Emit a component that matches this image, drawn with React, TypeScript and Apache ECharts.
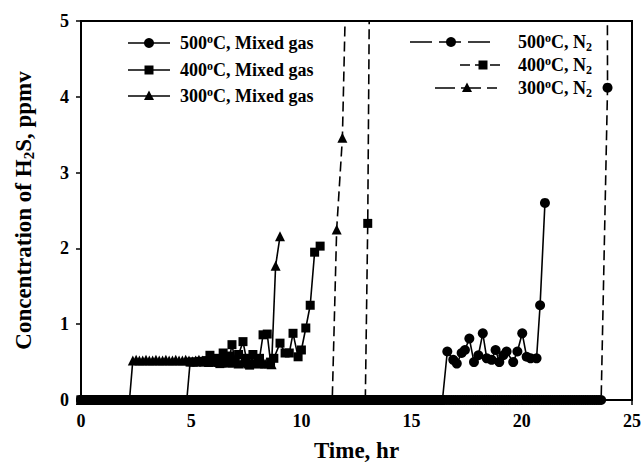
import React, { useEffect, useRef } from "react";
import * as echarts from "echarts";

// Instrument readings were logged roughly every 0.1 hr; the initial runs read 0 ppmv.
const SAMPLE_STEP = 0.1;

// 500 °C, mixed gas (circles, solid)
const zeroEnd500Mixed = 16.4;
const hours500Mixed = [16.62, 16.89, 17.05, 17.27, 17.42, 17.62, 17.83, 18.03, 18.23, 18.41, 18.63, 18.81, 18.98, 19.16, 19.31, 19.61, 19.8, 20.02, 20.22, 20.4, 20.67, 20.83, 21.05];
const conc500Mixed = [0.64, 0.53, 0.48, 0.62, 0.66, 0.81, 0.5, 0.59, 0.88, 0.55, 0.53, 0.66, 0.5, 0.59, 0.64, 0.5, 0.64, 0.88, 0.57, 0.55, 0.55, 1.25, 2.6];

// 400 °C, mixed gas (squares, solid)
const zeroEnd400Mixed = 4.8;
const hours400Mixed = [4.95, 5.1, 5.25, 5.4, 5.55, 5.7, 5.85, 6.0, 6.15, 6.3, 6.45, 6.6, 6.75, 6.85, 7.0, 7.15, 7.35, 7.5, 7.65, 7.8, 7.95, 8.1, 8.26, 8.45, 8.6, 8.75, 9.03, 9.26, 9.45, 9.62, 9.85, 10.0, 10.2, 10.4, 10.6, 10.85];
const conc400Mixed = [0.5, 0.5, 0.5, 0.51, 0.5, 0.52, 0.59, 0.5, 0.55, 0.48, 0.62, 0.52, 0.58, 0.73, 0.5, 0.6, 0.77, 0.55, 0.46, 0.6, 0.48, 0.55, 0.86, 0.87, 0.5, 0.55, 0.75, 0.62, 0.62, 0.88, 0.57, 0.66, 0.95, 1.25, 1.95, 2.03];

// 300 °C, mixed gas (triangles, solid)
const zeroEnd300Mixed = 2.2;
const hours300Mixed = [2.35, 2.5, 2.65, 2.8, 2.95, 3.1, 3.25, 3.4, 3.55, 3.7, 3.85, 4.0, 4.15, 4.3, 4.45, 4.6, 4.75, 4.9, 5.05, 5.2, 5.35, 5.5, 5.65, 5.8, 5.95, 6.1, 6.25, 6.4, 6.55, 6.7, 6.85, 7.0, 7.15, 7.3, 7.45, 7.6, 7.75, 7.9, 8.05, 8.2, 8.35, 8.5, 8.65, 8.83, 9.03];
const conc300Mixed = [0.52, 0.53, 0.52, 0.52, 0.53, 0.52, 0.52, 0.53, 0.52, 0.52, 0.53, 0.52, 0.52, 0.53, 0.52, 0.52, 0.53, 0.52, 0.51, 0.52, 0.53, 0.52, 0.51, 0.5, 0.52, 0.51, 0.5, 0.49, 0.51, 0.5, 0.49, 0.5, 0.48, 0.5, 0.49, 0.48, 0.5, 0.49, 0.48, 0.49, 0.48, 0.48, 0.47, 1.77, 2.16];

// N2 runs (dashed); last reading goes off scale
const zeroEnd500N2 = 23.6;
const hours500N2 = [23.89, 23.85];
const conc500N2 = [4.12, 10];

const zeroEnd400N2 = 12.9;
const hours400N2 = [13.01, 13.2];
const conc400N2 = [2.33, 10];

const zeroEnd300N2 = 11.4;
const hours300N2 = [11.6, 11.86, 12.37];
const conc300N2 = [2.25, 3.46, 10];

const xTicks = [0, 5, 10, 15, 20, 25];
const yTicks = [0, 1, 2, 3, 4, 5];

const FONT = "'Liberation Serif', 'Times New Roman', serif";

function buildSeries(zeroEnd: number, hours: number[], values: number[]) {
  const pts: number[][] = [];
  const n = Math.round(zeroEnd / SAMPLE_STEP);
  for (let i = 0; i <= n; i++) pts.push([+(i * SAMPLE_STEP).toFixed(2), 0]);
  hours.forEach((h, i) => pts.push([h, values[i]]));
  return pts;
}

const richLegend = {
  n: { fontFamily: FONT, fontSize: 18, fontWeight: "bold", fill: "#000", color: "#000", lineHeight: 21 },
  s: { fontFamily: FONT, fontSize: 12, fontWeight: "bold", fill: "#000", color: "#000", verticalAlign: "top", lineHeight: 21, padding: [0, 0, 8, 0] },
  b: { fontFamily: FONT, fontSize: 12, fontWeight: "bold", fill: "#000", color: "#000", verticalAlign: "bottom", lineHeight: 21, padding: [8, 0, 0, 0] },
};

function marker(sym: string, cx: number, cy: number) {
  if (sym === "circle") return { type: "circle", shape: { cx, cy, r: 5 }, style: { fill: "#000" } };
  if (sym === "rect") return { type: "rect", shape: { x: cx - 4.5, y: cy - 4.5, width: 9, height: 9 }, style: { fill: "#000" } };
  return { type: "polygon", shape: { points: [[cx, cy - 5.5], [cx + 5, cy + 4], [cx - 5, cy + 4]] }, style: { fill: "#000" } };
}

export default function App() {
  const ref = useRef<HTMLDivElement>(null);
  useEffect(() => {
    document.body.style.margin = "0";
    if (!ref.current) return;
    const chart = echarts.init(ref.current, undefined, { renderer: "svg" });

    const mk = (name: string, data: number[][], symbol: string, size: number, dashed: boolean) => ({
      type: "line",
      name,
      data,
      symbol,
      symbolSize: size,
      showSymbol: true,
      showAllSymbol: true,
      clip: true,
      itemStyle: { color: "#000" },
      lineStyle: { color: "#000", width: 1.6, type: dashed ? [10, 5] : "solid" },
      emphasis: { disabled: true },
    });

    const leftRows = [
      { y: 43, sym: "circle", text: "{n|500}{s|o}{n|C, Mixed gas}" },
      { y: 70, sym: "rect", text: "{n|400}{s|o}{n|C, Mixed gas}" },
      { y: 96, sym: "triangle", text: "{n|300}{s|o}{n|C, Mixed gas}" },
    ];
    const rightRows = [
      { y: 42, sym: "circle", x1: 410, x2: 490, mx: 451, dash: [22, 7], text: "{n|500}{s|o}{n|C, N}{b|2}" },
      { y: 65, sym: "rect", x1: 460, x2: 503, mx: 483, dash: [10, 5], text: "{n|400}{s|o}{n|C, N}{b|2}" },
      { y: 88, sym: "triangle", x1: 435, x2: 497, mx: 467, dash: [20, 6], text: "{n|300}{s|o}{n|C, N}{b|2}" },
    ];

    const graphics: any[] = [];
    leftRows.forEach((r) => {
      graphics.push({ type: "line", shape: { x1: 128, y1: r.y, x2: 170, y2: r.y }, style: { stroke: "#000", lineWidth: 1.6 } });
      graphics.push(marker(r.sym, 149, r.y));
      graphics.push({
        type: "text",
        x: 180,
        y: r.y,
        style: { text: r.text, rich: richLegend, verticalAlign: "middle", align: "left", fill: "#000", font: `bold 18px ${FONT}` },
      });
    });
    rightRows.forEach((r) => {
      graphics.push({ type: "line", shape: { x1: r.x1, y1: r.y, x2: r.x2, y2: r.y }, style: { stroke: "#000", lineWidth: 1.6, lineDash: r.dash } });
      graphics.push(marker(r.sym, r.mx, r.y));
      graphics.push({
        type: "text",
        x: 518,
        y: r.y,
        style: { text: r.text, rich: richLegend, verticalAlign: "middle", align: "left", fill: "#000", font: `bold 18px ${FONT}` },
      });
    });

    chart.setOption({
      animation: false,
      backgroundColor: "#fff",
      grid: {
        left: 81,
        right: 11,
        top: 21,
        bottom: 63,
        show: true,
        borderColor: "#000",
        borderWidth: 2,
        backgroundColor: "transparent",
        containLabel: false,
        outerBoundsMode: "none",
      },
      xAxis: {
        type: "value",
        min: xTicks[0],
        max: xTicks[xTicks.length - 1],
        interval: 5,
        name: "Time, hr",
        nameLocation: "middle",
        nameGap: 39,
        nameTextStyle: { fontFamily: FONT, fontSize: 23, fontWeight: "bold", color: "#000" },
        axisLine: { lineStyle: { color: "#000", width: 2 } },
        axisTick: { inside: false, length: 5, lineStyle: { color: "#000", width: 1.5 } },
        axisLabel: { margin: 12, fontFamily: FONT, fontSize: 18, fontWeight: "bold", color: "#000" },
        splitLine: { show: false },
      },
      yAxis: {
        type: "value",
        min: yTicks[0],
        max: yTicks[yTicks.length - 1],
        interval: 1,
        name: "{a|Concentration of H}{b|2}{a|S, ppmv}",
        nameLocation: "middle",
        nameGap: 45,
        nameRotate: 90,
        nameTextStyle: {
          fontFamily: FONT,
          fontSize: 23,
          fontWeight: "bold",
          color: "#000",
          rich: {
            a: { fontFamily: FONT, fontSize: 23, fontWeight: "bold", color: "#000", lineHeight: 26 },
            b: { fontFamily: FONT, fontSize: 15, fontWeight: "bold", color: "#000", verticalAlign: "bottom", lineHeight: 26, padding: [10, 0, 0, 0] },
          },
        },
        axisLine: { lineStyle: { color: "#000", width: 2 } },
        axisTick: { inside: false, length: 5, lineStyle: { color: "#000", width: 1.5 } },
        axisLabel: { margin: 12, fontFamily: FONT, fontSize: 18, fontWeight: "bold", color: "#000" },
        splitLine: { show: false },
      },
      series: [
        mk("500°C, N2", buildSeries(zeroEnd500N2, hours500N2, conc500N2), "circle", 10, true),
        mk("400°C, N2", buildSeries(zeroEnd400N2, hours400N2, conc400N2), "rect", 9, true),
        mk("300°C, N2", buildSeries(zeroEnd300N2, hours300N2, conc300N2), "triangle", 10, true),
        mk("500°C, Mixed gas", buildSeries(zeroEnd500Mixed, hours500Mixed, conc500Mixed), "circle", 10, false),
        mk("400°C, Mixed gas", buildSeries(zeroEnd400Mixed, hours400Mixed, conc400Mixed), "rect", 9, false),
        mk("300°C, Mixed gas", buildSeries(zeroEnd300Mixed, hours300Mixed, conc300Mixed), "triangle", 10, false),
      ],
      graphic: graphics,
    });
    return () => chart.dispose();
  }, []);
  return <div ref={ref} style={{ width: 643, height: 463, position: "fixed", left: 0, top: 0 }} />;
}
